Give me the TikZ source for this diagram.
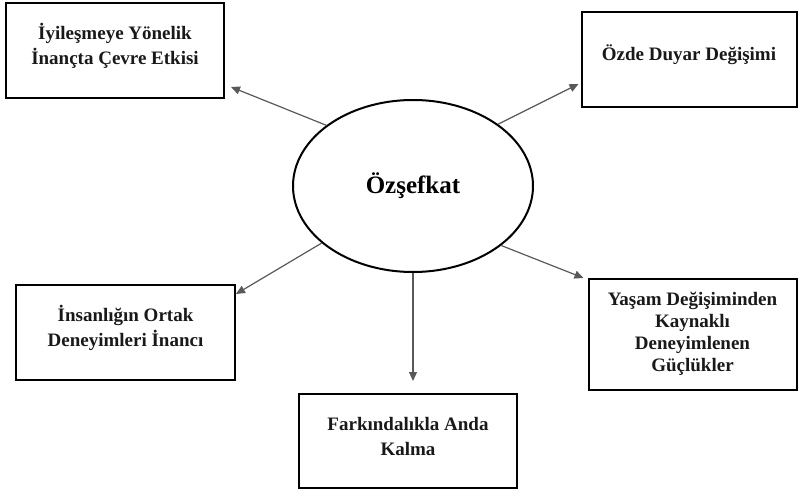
\documentclass[tikz,border=0pt]{standalone}
\usepackage{fontspec}
\setmainfont{Liberation Serif}
\usetikzlibrary{shapes,arrows.meta,positioning}

\begin{document}
\begin{tikzpicture}[x=0.5pt,y=-0.5pt,
	kutu/.style={draw=black,line width=1pt,inner sep=0pt,minimum height=47.5pt},
	yazi/.style={font=\fontsize{9.5}{12.5}\selectfont\bfseries,text=black!90,align=center},
	ok/.style={draw=black!65,line width=0.6pt,-{Triangle[length=4.5pt,width=4pt]}}]
	
	\useasboundingbox (0,0) rectangle (798,492);
	
	% merkez
	\node[ellipse,draw,line width=1pt,minimum width=120pt,minimum height=86pt,inner sep=0pt] (oz) at (413,186) {};
	\node[yazi,text=black,font=\fontsize{12.5}{15}\selectfont\bfseries] (ozt) at (oz.center) {Özşefkat};
	
	% kutular
	\node[kutu,minimum width=109pt] (b1) at (115,50.5) {};
	\node[kutu,minimum width=107.5pt] (b2) at (689,59.5) {};
	\node[kutu,minimum width=109.5pt] (b3) at (125.5,332.5) {};
	\node[kutu,minimum width=109pt,minimum height=47pt] (b4) at (408,441) {};
	\node[kutu,minimum width=104pt,minimum height=55.5pt] (b5) at (692.5,334.5) {};
	
	\node[yazi,yshift=2.5pt] (t1) at (b1.center) {İyileşmeye Yönelik\\İnançta Çevre Etkisi};
	\node[yazi,yshift=2.5pt] (t2) at (b2.center) {Özde Duyar Değişimi};
	\node[yazi,yshift=2.5pt] (t3) at (b3.center) {İnsanlığın Ortak\\Deneyimleri İnancı};
	\node[yazi,yshift=2.5pt] (t4) at (b4.center) {Farkındalıkla Anda\\Kalma};
	\node[yazi,yshift=0.6pt,font=\fontsize{9.5}{11}\selectfont\bfseries] (t5) at (b5.center) {Yaşam Değişiminden\\Kaynaklı\\Deneyimlenen\\Güçlükler};
	
	% oklar
	\coordinate (b4u) at ([yshift=6pt]b4.north);
	\draw[ok] (oz.145.7) -- ([shift={(3pt,6pt)}]b1.south east);
	\draw[ok] (oz.36) -- ([shift={(-1pt,12pt)}]b2.south west);
	\draw[ok] (oz.212) -- ([shift={(0pt,-5pt)}]b3.north east);
	\draw[ok] (oz.south) -- (oz.south |- b4u);
	\draw[ok] (oz.-34.4) -- ([xshift=-2pt]b5.north west);
	
\end{tikzpicture}
\end{document}
